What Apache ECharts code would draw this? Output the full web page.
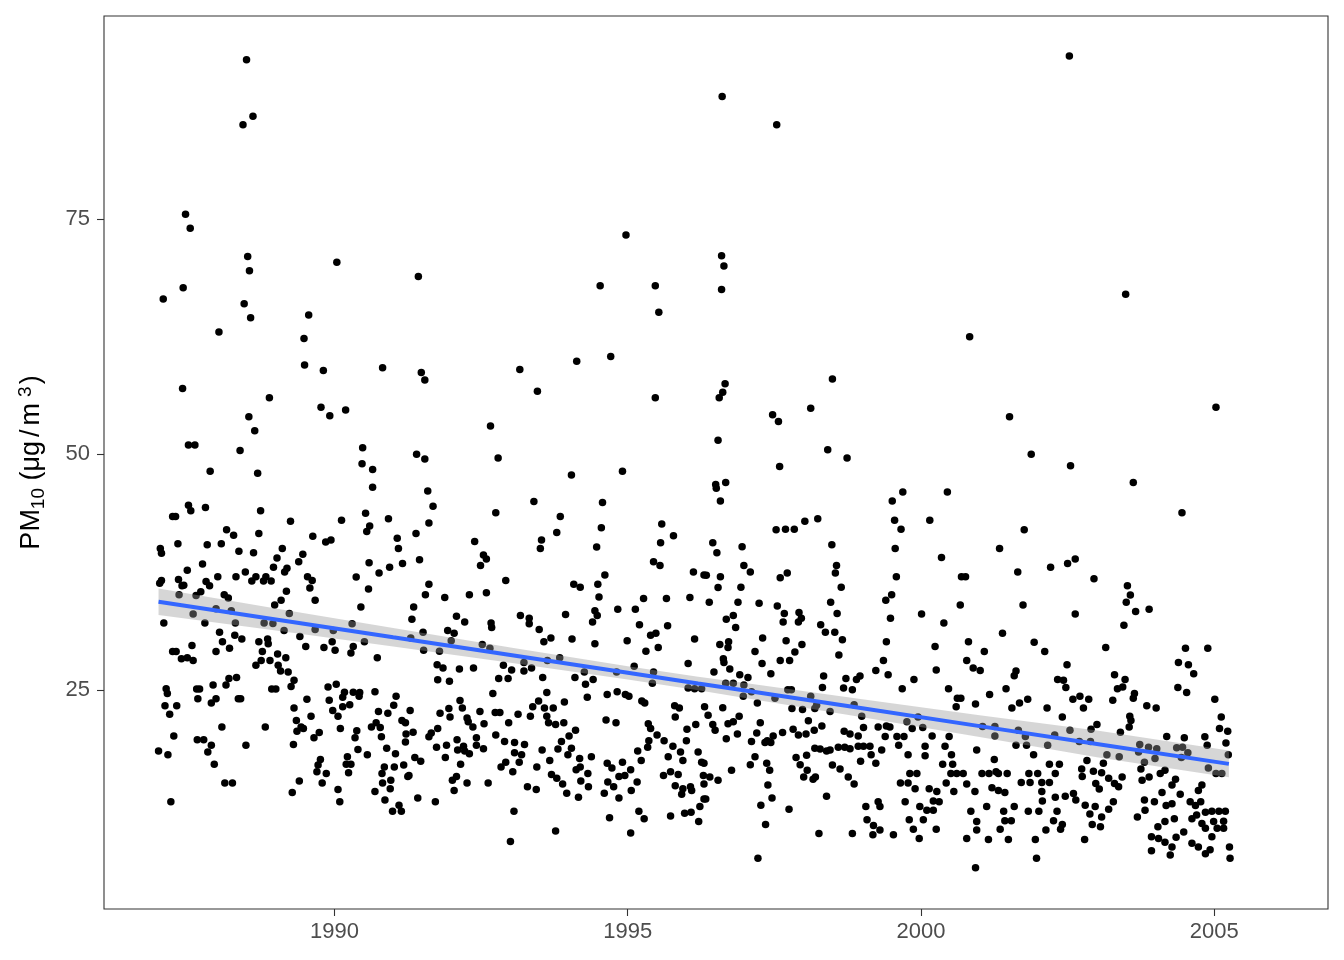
<!DOCTYPE html>
<html>
<head>
<meta charset="utf-8">
<script src="https://cdn.jsdelivr.net/npm/echarts@6/dist/echarts.min.js"></script>
<style>
  html, body { margin: 0; padding: 0; background: #fff; }
  #main { width: 1344px; height: 960px; }
</style>
</head>
<body>
<div id="main"></div>
<script>
// tick positions
var xTicks = [1990, 1995, 2000, 2005];
var yTicks = [25, 50, 75];

// sparse high values (above ~48)
var obsHigh = [
  [1988.50,91.9],[1988.61,85.9],[1988.44,85.0],[1987.46,75.5],[1987.54,74.0],[1988.52,71.0],[1988.55,69.5],[1990.04,70.4],
  [1991.43,68.9],[1987.42,67.7],[1987.08,66.5],[1988.46,66.0],[1988.57,64.5],[1989.56,64.8],[1988.03,63.0],[1989.48,62.3],
  [1989.49,59.5],[1989.81,58.9],[1990.82,59.2],[1991.48,58.7],[1991.54,57.9],[1987.41,57.0],[1988.89,56.0],[1988.54,54.0],
  [1988.64,52.5],[1989.77,55.0],[1989.92,54.1],[1990.19,54.7],[1987.51,51.0],[1987.62,51.0],[1988.39,50.4],[1990.48,50.7],
  [1990.47,49.0],[1990.65,48.4],[1991.40,50.0],[1991.54,49.5],[1987.88,48.2],[1988.69,48.0],
  [1996.61,88.0],[1997.54,85.0],[1994.97,73.3],[1996.60,71.1],[1996.64,70.0],[1996.60,67.5],[1994.53,67.9],[1995.47,67.9],
  [1995.53,65.1],[1994.13,59.9],[1994.71,60.4],[1993.16,59.0],[1993.46,56.7],[1995.47,56.0],[1996.66,57.5],[1996.62,56.6],
  [1996.56,56.0],[1998.49,58.0],[1998.12,54.9],[1997.47,54.2],[1997.57,53.5],[1992.66,53.0],[1992.79,49.6],[1996.54,51.5],
  [1998.41,50.5],[1997.59,48.7],[1994.91,48.2],
  [2002.53,92.3],[2003.49,67.0],[2000.83,62.5],[2001.51,54.0],[2005.03,55.0],[1998.74,49.6],[2001.88,50.0],[2002.55,48.8]
];

// 1987 - 1991
var obsA = [
  [1990.65,46.5],[1991.59,46.1],[1987.51,44.6],[1987.55,44.0],[1987.80,44.35],[1987.24,43.4],[1987.29,43.4],[1988.74,44.0],
  [1989.25,42.9],[1990.12,43.0],[1990.53,43.75],[1990.92,43.15],[1990.60,42.4],[1990.55,41.8],[1991.61,42.7],[1988.16,42.0],
  [1988.28,41.4],[1988.71,41.6],[1989.63,41.3],[1989.85,40.7],[1989.94,40.9],[1991.07,41.1],[1991.09,40.0],[1991.39,41.6],
  [1987.03,40.0],[1987.05,39.5],[1987.33,40.5],[1987.83,40.4],[1988.07,40.5],[1988.37,39.7],[1988.62,39.55],[1989.11,40.0],
  [1989.02,39.0],[1989.46,39.4],[1989.39,38.6],[1991.45,38.8],[1990.59,38.5],[1990.76,37.4],[1990.94,38.0],[1991.16,38.4],
  [1987.75,38.35],[1987.49,37.7],[1988.96,38.0],[1989.15,37.5],[1989.19,37.9],[1988.48,37.5],[1988.01,37.0],[1988.32,37.0],
  [1987.02,36.3],[1987.05,36.6],[1987.34,36.7],[1987.40,36.05],[1987.43,36.1],[1987.81,36.5],[1987.87,36.05],[1988.59,36.55],
  [1988.66,37.0],[1988.79,36.55],[1988.83,37.0],[1988.92,36.55],[1989.54,37.0],[1989.62,36.6],[1989.58,35.8],[1990.37,36.97],
  [1990.58,35.7],[1991.61,36.2],[1989.18,35.45],[1987.35,35.1],[1987.64,35.0],[1987.72,35.4],[1988.12,35.1],[1988.19,34.75],
  [1989.09,34.5],[1988.98,34.0],[1989.67,34.5],[1990.45,33.8],[1991.35,33.8],[1991.32,32.5],[1991.55,35.1],[1989.23,33.1],
  [1987.59,33.05],[1987.98,33.6],[1988.24,33.4],[1987.09,32.1],[1987.79,32.1],[1988.31,32.1],[1988.80,32.1],[1988.95,32.05],
  [1989.67,31.4],[1989.14,31.3],[1989.98,31.3],[1990.30,32.0],[1991.30,30.5],[1991.51,31.1],[1989.41,30.65],[1988.04,31.1],
  [1988.09,30.1],[1988.30,30.8],[1988.42,30.4],[1988.71,30.1],[1988.86,30.4],[1988.87,29.9],[1989.96,30.1],[1990.51,30.1],
  [1987.57,29.7],[1989.51,29.6],[1989.82,29.5],[1990.01,29.2],[1990.32,29.6],[1990.28,28.9],[1991.52,29.2],[1987.24,29.06],
  [1987.30,29.06],[1987.39,28.3],[1987.49,28.4],[1987.59,28.1],[1987.98,29.06],[1988.21,29.4],[1988.77,29.06],[1989.03,28.8],
  [1989.17,28.4],[1988.75,28.1],[1988.66,27.6],[1988.90,28.1],[1989.04,27.6],[1989.08,27.0],[1989.21,26.9],[1990.73,28.4],
  [1988.20,26.2],[1988.33,26.3],[1988.15,25.5],[1989.31,26.0],[1989.26,25.35],[1987.13,25.1],[1987.15,24.6],[1987.65,25.07],
  [1987.70,25.07],[1987.93,25.5],[1987.67,24.05],[1987.90,23.6],[1987.98,24.05],[1988.36,24.05],[1988.40,24.05],[1988.93,25.07],
  [1989.00,25.07],[1989.89,25.3],[1990.03,25.6],[1989.91,23.9],[1990.17,24.75],[1990.14,24.2],[1990.32,24.75],[1990.43,24.7],
  [1990.42,24.3],[1990.69,24.8],[1991.05,24.3],[1991.01,23.35],[1987.11,23.3],[1987.31,23.3],[1987.19,22.4],[1989.53,24.0],
  [1989.31,23.06],[1989.35,21.75],[1989.60,22.2],[1989.97,22.8],[1990.06,22.2],[1990.14,23.2],[1990.26,23.4],[1990.75,22.7],
  [1990.91,22.5],[1991.29,22.8],[1991.15,21.75],[1991.21,21.5],[1988.08,21.05],[1988.82,21.05],[1987.26,20.1],[1987.66,19.7],
  [1987.77,19.7],[1987.90,19.1],[1987.84,18.4],[1988.49,19.1],[1987.00,18.5],[1987.16,18.1],[1989.43,21.05],[1989.36,20.6],
  [1989.47,20.9],[1989.74,20.45],[1989.65,19.9],[1989.30,19.2],[1990.10,20.9],[1990.38,20.65],[1990.35,19.9],[1990.63,21.05],
  [1990.71,21.5],[1990.78,21.0],[1990.80,20.0],[1991.22,20.3],[1991.34,20.5],[1991.21,19.45],[1991.61,20.0],[1990.40,18.65],
  [1990.56,18.1],[1990.89,18.8],[1991.04,18.2],[1991.37,17.8],[1991.47,17.4],[1987.95,17.1],[1989.76,17.6],[1989.72,17.0],
  [1989.70,16.3],[1989.86,16.1],[1990.22,17.9],[1990.20,17.1],[1990.28,17.1],[1990.24,16.2],[1990.85,16.8],[1990.81,16.1],
  [1991.02,16.8],[1991.18,17.0],[1991.25,15.8],[1991.27,15.9],[1988.13,15.1],[1988.26,15.1],[1989.40,15.3],[1989.28,14.1],
  [1989.79,15.1],[1990.06,14.4],[1990.09,13.1],[1990.69,14.2],[1990.82,15.1],[1990.96,15.4],[1990.95,14.5],[1990.86,13.3],
  [1991.42,13.5],[1991.10,12.75],[1990.99,12.1],[1991.14,12.1],[1987.21,13.1]
];

// 1991 - 1996
var obsB = [
  [1994.04,47.8],[1991.68,44.5],[1993.40,45.0],[1992.75,43.8],[1994.57,44.9],[1993.85,43.4],[1993.79,41.7],[1994.55,42.2],
  [1994.47,40.15],[1995.58,42.6],[1995.78,41.35],[1995.56,40.6],[1992.39,40.75],[1993.53,40.9],[1993.51,40.0],[1992.54,39.3],
  [1992.59,38.9],[1992.49,38.2],[1995.44,38.6],[1995.55,38.2],[1996.12,37.5],[1996.30,37.2],[1992.92,36.6],[1994.08,36.2],
  [1994.19,35.9],[1994.49,36.2],[1994.61,37.2],[1991.88,34.8],[1992.30,35.1],[1992.59,35.3],[1994.51,34.85],[1995.27,34.7],
  [1995.66,34.7],[1996.06,34.8],[1994.83,33.55],[1995.13,33.55],[1992.08,32.8],[1992.22,32.2],[1992.67,32.1],[1992.68,31.6],
  [1993.17,32.9],[1993.32,32.6],[1993.32,32.0],[1993.49,31.4],[1993.94,33.0],[1994.44,33.4],[1994.48,32.9],[1994.40,32.2],
  [1995.20,31.9],[1995.68,31.8],[1991.93,31.3],[1992.04,31.0],[1993.57,30.1],[1993.69,30.5],[1994.05,30.4],[1994.44,29.9],
  [1994.99,30.2],[1995.39,30.8],[1995.48,31.0],[1995.31,29.1],[1995.52,29.5],[1996.14,30.4],[1991.79,29.1],[1991.99,30.2],
  [1992.52,29.8],[1992.65,29.4],[1993.84,28.4],[1995.11,27.5],[1996.03,27.8],[1991.75,27.65],[1991.85,27.3],[1992.13,27.2],
  [1992.37,27.3],[1992.88,27.6],[1993.02,27.1],[1993.23,27.9],[1993.36,27.3],[1993.23,27.0],[1993.63,28.1],[1994.26,26.9],
  [1994.81,26.9],[1995.44,26.9],[1995.42,25.7],[1991.76,26.06],[1991.96,25.9],[1992.80,26.2],[1992.96,26.2],[1993.55,26.3],
  [1994.10,26.3],[1994.28,25.6],[1994.41,26.1],[1992.70,24.6],[1993.62,24.7],[1994.31,24.2],[1994.65,24.5],[1994.82,24.8],
  [1994.96,24.5],[1995.02,24.3],[1995.24,23.8],[1995.29,23.6],[1996.03,25.2],[1996.14,25.1],[1996.26,25.1],[1992.14,23.85],
  [1992.18,23.06],[1991.80,22.5],[1991.95,23.0],[1991.97,22.1],[1992.74,22.6],[1992.82,22.6],[1993.13,22.4],[1992.48,22.7],
  [1993.38,23.2],[1993.48,23.8],[1993.34,22.2],[1993.58,23.06],[1993.73,23.06],[1993.62,22.2],[1993.92,23.7],[1995.80,23.3],
  [1995.88,23.06],[1995.81,22.1],[1992.26,22.0],[1992.28,21.6],[1992.36,21.05],[1992.55,21.4],[1992.97,21.5],[1993.65,21.5],
  [1993.77,21.3],[1993.91,21.5],[1994.11,20.7],[1994.00,20.1],[1994.63,21.8],[1994.80,21.5],[1995.35,21.4],[1995.39,20.9],
  [1995.50,20.2],[1995.62,19.6],[1995.77,19.0],[1995.90,18.4],[1996.01,20.8],[1996.16,21.3],[1996.00,19.6],[1991.65,20.4],
  [1991.76,20.9],[1992.09,19.7],[1992.20,19.0],[1992.22,18.5],[1992.30,18.2],[1992.10,18.6],[1991.91,19.1],[1991.89,17.8],
  [1991.74,18.9],[1992.42,19.9],[1992.42,19.1],[1992.54,18.75],[1992.75,20.2],[1992.90,19.5],[1993.07,19.4],[1993.24,19.2],
  [1992.15,17.1],[1992.84,16.8],[1992.92,17.3],[1993.07,18.3],[1993.19,18.1],[1993.04,16.3],[1993.15,17.3],[1993.45,16.8],
  [1993.54,18.6],[1993.67,17.5],[1993.81,18.7],[1993.87,19.5],[1994.04,18.8],[1993.98,18.1],[1994.18,17.7],[1994.19,16.8],
  [1994.38,17.9],[1994.12,16.5],[1994.32,16.1],[1994.20,15.3],[1994.33,14.7],[1993.70,16.0],[1993.79,15.6],[1993.89,15.0],
  [1993.29,14.7],[1993.44,14.4],[1993.96,14.0],[1994.16,13.6],[1994.65,17.2],[1994.73,16.7],[1994.91,17.3],[1994.95,15.9],
  [1995.05,16.5],[1995.23,17.5],[1994.85,15.8],[1995.16,15.2],[1995.06,14.3],[1994.66,15.2],[1994.76,14.7],[1994.60,14.0],
  [1994.85,13.5],[1995.17,18.5],[1995.34,18.9],[1995.36,19.6],[1995.61,15.9],[1995.73,16.3],[1995.81,14.8],[1995.94,14.5],
  [1996.09,14.3],[1995.92,13.9],[1995.69,17.9],[1995.94,17.5],[1995.86,16.0],[1996.07,14.7],[1996.20,18.4],[1996.26,17.3],
  [1996.29,15.9],[1992.01,15.4],[1992.08,15.8],[1992.26,15.1],[1992.04,14.3],[1992.62,15.1],[1991.72,13.1],[1993.06,12.1],
  [1993.00,8.9],[1993.77,10.0],[1994.69,11.4],[1995.05,9.8],[1995.19,12.1],[1995.28,11.3],[1995.73,11.6],[1995.97,11.9],
  [1996.08,12.0],[1996.21,11.0],[1996.23,12.6],[1996.30,13.4]
];

// 1996 - 2001
var obsC = [
  [1996.50,46.8],[1996.51,46.4],[1996.67,47.0],[1996.58,45.05],[1999.51,45.05],[1999.69,46.0],[2000.45,46.0],[1997.53,42.0],
  [1997.69,42.05],[1997.84,42.05],[1998.02,42.9],[1998.24,43.15],[1999.55,43.0],[1999.66,42.05],[2000.15,43.0],[1996.45,40.6],
  [1996.52,39.55],[1996.95,40.2],[1998.48,40.4],[1999.56,40.0],[2000.35,39.05],[1996.98,38.2],[1997.09,37.5],[1998.56,38.2],
  [1998.54,37.4],[1996.34,37.15],[1996.58,37.0],[1996.54,35.85],[1996.93,35.9],[1997.60,36.9],[1997.72,37.4],[1998.64,35.9],
  [1999.58,37.0],[2000.69,37.0],[2000.76,37.0],[1996.39,34.3],[1996.88,34.3],[1997.24,34.2],[1997.55,33.9],[1997.67,33.1],
  [1997.65,32.2],[1997.92,33.2],[1997.96,32.6],[1997.91,32.2],[1998.46,34.3],[1998.57,33.1],[1999.40,34.5],[1999.50,35.1],
  [1999.48,32.6],[2000.01,33.05],[2000.67,34.0],[1996.68,32.5],[1996.80,32.9],[1996.84,31.6],[2000.39,32.1],[1998.29,31.9],
  [1998.37,31.1],[1998.53,31.1],[1998.66,30.3],[1997.30,30.5],[1997.70,30.2],[1997.97,29.8],[1997.85,29.0],[1997.60,28.1],
  [1997.76,28.1],[1996.57,29.8],[1996.72,30.1],[1996.71,29.5],[1997.17,29.06],[1997.29,27.8],[1997.44,26.7],[1998.60,28.7],
  [1999.41,30.1],[2000.24,29.6],[2000.81,30.1],[1996.63,28.3],[1996.64,27.9],[1996.74,27.2],[1996.47,26.9],[1999.23,27.05],
  [1999.36,28.1],[1999.44,26.6],[2000.26,27.1],[2000.78,28.1],[2000.89,27.3],[2001.01,27.05],[1996.91,26.6],[1997.05,26.3],
  [1996.80,25.7],[1996.67,25.7],[1996.98,25.5],[1997.11,24.8],[1996.97,24.3],[1997.21,23.6],[1998.34,26.45],[1998.32,25.25],
  [1998.72,26.2],[1998.90,26.1],[1998.96,26.45],[1998.68,25.2],[1998.83,25.0],[1997.73,25.0],[1997.79,25.0],[1997.51,24.1],
  [1998.12,24.3],[1999.68,25.1],[1999.88,26.1],[2000.47,25.1],[2000.62,24.1],[2000.68,24.1],[2000.60,23.2],[2000.93,23.5],
  [1996.37,22.3],[1996.31,23.2],[1996.62,23.1],[1996.45,21.3],[1996.49,20.7],[1996.71,21.4],[1996.80,21.6],[1996.68,19.8],
  [1996.87,20.3],[1996.90,22.2],[1996.30,17.2],[1997.26,21.5],[1997.20,20.4],[1997.11,19.5],[1997.34,19.4],[1997.48,20.1],
  [1997.64,20.45],[1997.80,23.0],[1997.98,22.9],[1998.19,23.0],[1998.45,22.7],[1998.22,23.35],[1998.86,23.4],[1998.08,21.7],
  [1997.82,20.8],[1997.91,20.2],[1998.04,20.3],[1998.18,20.7],[1998.31,21.15],[1998.99,22.2],[1998.69,20.6],[1998.79,20.3],
  [1999.02,21.0],[1998.93,20.1],[1999.27,21.05],[1999.41,21.15],[1999.47,21.05],[1999.76,21.6],[1999.85,20.9],[1999.95,22.1],
  [2000.03,21.0],[2000.48,20.05],[2000.19,20.1],[1999.39,20.05],[1999.59,20.05],[1999.71,20.05],[1999.62,19.1],[2000.07,19.0],
  [2000.07,18.0],[2000.41,19.0],[2000.52,18.1],[2000.95,18.6],[1997.38,19.6],[1997.44,19.4],[1998.19,18.8],[1998.28,18.7],
  [1998.39,18.5],[1998.45,18.6],[1998.59,18.9],[1998.70,18.9],[1998.79,18.75],[1998.93,19.0],[1999.02,19.0],[1999.13,19.0],
  [1999.15,18.1],[1999.33,18.6],[1999.23,17.2],[1998.97,17.4],[1999.78,18.1],[2000.37,17.1],[2000.54,17.1],[2000.51,16.1],
  [2000.61,16.1],[2000.72,16.1],[1999.81,16.1],[1999.93,16.1],[1999.65,15.1],[1999.78,15.1],[1999.90,14.5],[2000.43,15.1],
  [2000.56,14.2],[2000.78,15.0],[2000.92,14.2],[2000.14,14.5],[2000.27,14.2],[2000.21,13.2],[2000.31,13.1],[2000.10,12.2],
  [2000.21,12.2],[1999.98,12.6],[2000.04,11.2],[1999.80,11.2],[1996.30,15.0],[1996.40,15.75],[1996.54,15.4],[1996.33,13.4],
  [1996.77,16.45],[1997.09,17.05],[1997.17,17.9],[1997.37,17.2],[1997.42,16.45],[1997.39,14.9],[1997.46,13.5],[1997.27,12.75],
  [1997.75,12.3],[1997.35,10.7],[1997.22,7.1],[1997.87,17.8],[1997.94,17.05],[1998.05,18.05],[1998.06,16.45],[1998.00,15.75],
  [1998.16,15.5],[1998.20,15.75],[1998.49,17.0],[1998.62,16.6],[1998.76,15.75],[1998.86,15.0],[1998.39,13.7],[1999.06,12.6],
  [1999.27,13.1],[1999.30,12.6],[1999.08,11.2],[1999.19,10.6],[1999.18,9.6],[1999.30,10.1],[1998.26,9.75],[1998.83,9.75],
  [1999.53,9.6],[1999.73,13.1],[1999.87,10.2],[1999.97,9.2],[2000.26,10.2],[2000.78,9.2],[2000.85,12.1],[2000.93,6.1],
  [2000.95,11.0],[2000.95,10.1]
];

// 2001 - 2005
var obsD = [
  [2003.62,47.0],[2004.45,43.8],[2001.76,42.0],[2001.34,40.0],[2001.65,37.5],[2002.21,38.0],[2002.50,38.4],[2002.63,38.9],
  [2002.95,36.8],[2003.52,36.05],[2003.57,35.06],[2003.50,34.3],[2003.66,33.3],[2003.89,33.55],[2001.74,34.0],[2002.63,33.05],
  [2003.46,31.85],[2001.39,31.0],[2001.93,30.05],[2002.11,29.06],[2001.08,29.06],[2003.15,29.5],[2004.51,29.4],[2004.89,29.4],
  [2004.39,27.9],[2004.56,27.65],[2004.65,26.7],[2002.49,27.65],[2001.62,27.0],[2001.59,26.5],[2002.33,26.1],[2002.43,26.0],
  [2002.47,25.25],[2003.30,26.6],[2003.48,26.1],[2003.35,25.1],[2003.44,25.3],[2004.38,25.25],[2004.53,24.7],[2001.45,25.1],
  [2001.17,24.5],[2001.82,24.0],[2001.68,23.6],[2001.55,23.06],[2002.15,23.06],[2002.59,24.0],[2002.71,24.3],[2002.86,24.0],
  [2002.77,23.06],[2003.27,23.9],[2003.62,24.1],[2003.64,24.6],[2003.85,23.3],[2004.01,23.06],[2005.01,24.0],[2002.41,22.1],
  [2003.56,22.2],[2003.58,21.75],[2003.55,21.05],[2003.00,21.3],[2002.90,20.8],[2005.12,22.1],[2005.09,20.9],[2005.23,20.6],
  [2005.20,19.35],[2002.54,20.7],[2003.40,20.5],[2004.19,20.05],[2004.49,19.9],[2004.84,20.0],[2004.88,19.1],[2001.05,21.1],
  [2001.26,21.1],[2001.26,20.1],[2001.66,20.7],[2001.78,20.05],[2002.28,20.2],[2002.70,19.5],[2002.89,19.5],[2003.73,19.2],
  [2003.88,18.9],[2004.02,18.75],[2003.71,18.4],[2004.36,18.85],[2004.46,18.9],[2004.55,18.3],[2001.62,19.1],[2001.80,19.1],
  [2001.92,18.1],[2002.16,19.1],[2003.17,18.1],[2003.38,17.9],[2005.24,18.1],[2003.81,17.3],[2003.99,17.7],[2004.44,17.8],
  [2004.90,16.7],[2005.03,16.1],[2005.13,16.1],[2001.25,17.6],[2002.19,17.1],[2002.36,17.1],[2002.83,17.5],[2003.11,17.2],
  [2001.04,16.1],[2001.16,16.1],[2001.28,16.3],[2001.32,16.1],[2001.47,16.1],[2001.21,14.6],[2001.32,14.3],[2001.43,14.1],
  [2001.84,16.1],[2001.99,16.1],[2002.29,16.1],[2001.71,15.15],[2001.86,15.15],[2002.06,15.15],[2002.19,15.15],[2002.06,14.2],
  [2002.07,13.2],[2002.74,16.6],[2002.94,16.35],[2002.75,15.8],[2003.08,16.2],[2003.20,15.6],[2003.30,15.05],[2003.37,14.7],
  [2003.43,15.75],[2002.98,15.05],[2003.04,14.45],[2003.75,16.6],[2003.77,15.4],[2003.89,15.75],[2004.08,16.1],[2004.16,16.45],
  [2004.34,15.5],[2004.28,14.9],[2002.29,13.6],[2002.46,13.7],[2002.60,13.98],[2002.64,13.3],[2002.80,12.75],[2001.12,12.6],
  [2001.59,12.6],[2001.41,12.1],[2001.83,12.1],[2002.01,12.1],[2002.32,12.1],[2003.28,13.1],[2003.20,12.3],[2002.97,12.6],
  [2002.88,11.8],[2003.08,11.5],[2003.06,10.45],[2002.92,10.7],[2003.81,13.3],[2003.98,13.1],[2003.82,12.2],[2003.69,11.5],
  [2004.11,14.1],[2004.18,12.7],[2004.28,12.9],[2004.42,13.9],[2004.32,11.3],[2004.16,11.0],[2004.04,10.45],[2003.93,9.4],
  [2004.05,9.2],[2004.16,8.8],[2004.28,8.3],[2004.25,7.45],[2003.93,7.9],[2004.35,9.35],[2004.59,13.1],[2004.68,12.7],
  [2004.77,13.1],[2004.73,14.3],[2004.79,14.9],[2004.62,11.3],[2004.70,11.7],[2004.85,12.0],[2004.96,12.1],[2005.08,12.1],
  [2005.19,12.1],[2004.79,10.8],[2004.85,10.3],[2004.99,11.0],[2005.16,11.05],[2005.05,10.3],[2005.16,10.3],[2004.48,9.9],
  [2004.96,9.4],[2004.62,8.7],[2004.73,8.3],[2004.85,7.6],[2004.93,8.0],[2005.26,8.3],[2005.27,7.1],[2001.15,9.1],
  [2001.49,9.1],[2001.95,9.1],[2001.97,7.1],[2002.79,9.1],[2001.35,10.2],[2001.43,11.1],[2001.54,11.1],[2002.13,10.1],
  [2002.26,11.1],[2002.41,10.7],[2002.38,10.2]
];

// linear fit + 95% band, read at a few years
var fitYear  = [1987.0, 1989, 1991, 1993, 1995, 1996.2, 1997, 1999, 2001, 2003, 2005.25];
var fitValue = [34.35, 32.46, 30.57, 28.69, 26.80, 25.67, 24.92, 23.03, 21.14, 19.25, 17.13];
var bandLow  = [32.95, 31.29, 29.59, 27.88, 26.09, 24.96, 24.12, 22.07, 19.99, 17.83, 15.72];
var bandHigh = [35.75, 33.63, 31.55, 29.50, 27.51, 26.38, 25.72, 23.99, 22.29, 20.67, 18.54];

var FONT = "'Liberation Sans', Arial, Helvetica, sans-serif";

var myChart = echarts.init(document.getElementById('main'));

var points = obsHigh.concat(obsA, obsB, obsC, obsD);
var fitData = [];
for (var i = 0; i < fitYear.length; i++) {
  fitData.push([fitYear[i], fitValue[i]]);
}

// grey confidence band as one polygon (upper edge, then lower edge back)
function renderBand(params, api) {
  var pts = [];
  for (var k = 0; k < fitYear.length; k++) {
    pts.push(api.coord([fitYear[k], bandHigh[k]]));
  }
  for (var k = fitYear.length - 1; k >= 0; k--) {
    pts.push(api.coord([fitYear[k], bandLow[k]]));
  }
  return {
    type: 'polygon',
    shape: { points: pts },
    style: { fill: 'rgba(153,153,153,0.4)', stroke: null }
  };
}

var option = {
  backgroundColor: '#ffffff',
  animation: false,
  grid: {
    left: 104, right: 16, top: 16, bottom: 51,
    show: true,
    borderColor: '#333333',
    borderWidth: 1.1,
    backgroundColor: '#ffffff'
  },
  xAxis: {
    type: 'value',
    min: 1986.07,
    max: 2006.94,
    axisLine: { show: false },
    splitLine: { show: false },
    axisTick: {
      show: true, inside: false, length: 7,
      customValues: xTicks,
      lineStyle: { color: '#333333', width: 1.1 }
    },
    axisLabel: {
      customValues: xTicks,
      formatter: function (v) { return String(v); },
      margin: 12,
      color: '#4D4D4D',
      fontSize: 22,
      fontFamily: FONT
    }
  },
  yAxis: {
    type: 'value',
    min: 1.72,
    max: 96.55,
    axisLine: { show: false },
    splitLine: { show: false },
    axisTick: {
      show: true, inside: false, length: 7,
      customValues: yTicks,
      lineStyle: { color: '#333333', width: 1.1 }
    },
    axisLabel: {
      customValues: yTicks,
      formatter: function (v) { return String(v); },
      margin: 14,
      color: '#4D4D4D',
      fontSize: 22,
      fontFamily: FONT
    },
    name: '{a|PM}{sub|10}{a| (μg}{sl|/}{a|m}{sup|3}{a|)}',
    nameLocation: 'middle',
    nameRotate: 90,
    nameGap: 56,
    nameTextStyle: {
      color: '#000000',
      fontFamily: FONT,
      fontSize: 27,
      rich: {
        a: { fontSize: 27, lineHeight: 32, color: '#000000', fontFamily: FONT },
        sl: { fontSize: 27, lineHeight: 32, color: '#000000', fontFamily: FONT, padding: [0, 4, 0, 4] },
        sub: { fontSize: 19, lineHeight: 19, verticalAlign: 'bottom', color: '#000000', fontFamily: FONT },
        sup: { fontSize: 19, lineHeight: 15, verticalAlign: 'top', color: '#000000', fontFamily: FONT, padding: [0, 2, 0, 6] }
      }
    }
  },
  series: [
    {
      name: 'PM10',
      type: 'scatter',
      data: points,
      symbol: 'circle',
      symbolSize: 7.5,
      itemStyle: { color: '#000000', opacity: 1 },
      z: 2
    },
    {
      name: 'ci',
      type: 'custom',
      data: [[1996, 25]],
      renderItem: renderBand,
      silent: true,
      z: 3
    },
    {
      name: 'fit',
      type: 'line',
      data: fitData,
      symbol: 'none',
      lineStyle: { color: '#3366FF', width: 4 },
      z: 4
    }
  ]
};

myChart.setOption(option);
</script>
</body>
</html>
